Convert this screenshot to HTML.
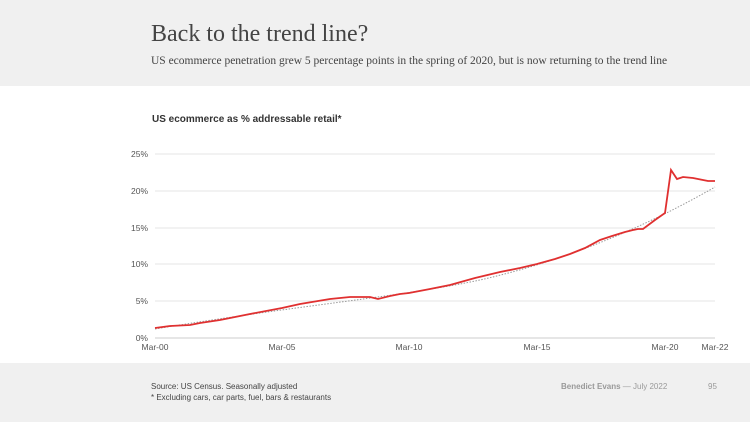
<!DOCTYPE html>
<html><head><style>
body{margin:0;width:750px;height:422px;overflow:hidden;background:#fff;font-family:"Liberation Sans",sans-serif}
.hdr{position:absolute;left:0;top:0;width:750px;height:86px;background:#f0f0f0}
.ftr{position:absolute;left:0;top:363px;width:750px;height:59px;background:#f0f0f0}
.t{position:absolute;left:151px;top:21px;font-family:"Liberation Serif",serif;font-size:24px;color:#444}
.s{position:absolute;left:151px;top:55px;font-family:"Liberation Serif",serif;font-size:11.5px;color:#444}
.ct{position:absolute;left:152px;top:114px;font-size:10px;font-weight:bold;color:#333}
.f{position:absolute;font-size:8px;color:#444}
</style></head><body>
<div class="hdr"></div><div class="ftr"></div>
<div class="t">Back to the trend line?</div>
<div class="s">US ecommerce penetration grew 5 percentage points in the spring of 2020, but is now returning to the trend line</div>
<div class="ct">US ecommerce as % addressable retail*</div>
<svg style="position:absolute;left:0;top:0" width="750" height="422">
<g stroke="#e4e4e4" stroke-width="1">
<line x1="155" x2="715" y1="154" y2="154"/><line x1="155" x2="715" y1="191" y2="191"/>
<line x1="155" x2="715" y1="228" y2="228"/><line x1="155" x2="715" y1="264" y2="264"/>
<line x1="155" x2="715" y1="301" y2="301"/></g>
<line x1="155" x2="715" y1="338" y2="338" stroke="#ccc"/>
<g font-size="8.5" fill="#555" font-family="Liberation Sans,sans-serif">
<text x="148" y="157" text-anchor="end">25%</text><text x="148" y="194" text-anchor="end">20%</text>
<text x="148" y="231" text-anchor="end">15%</text><text x="148" y="267" text-anchor="end">10%</text>
<text x="148" y="304" text-anchor="end">5%</text><text x="148" y="341" text-anchor="end">0%</text>
<text x="155" y="350" text-anchor="middle">Mar-00</text><text x="282" y="350" text-anchor="middle">Mar-05</text>
<text x="409" y="350" text-anchor="middle">Mar-10</text><text x="537" y="350" text-anchor="middle">Mar-15</text>
<text x="665" y="350" text-anchor="middle">Mar-20</text><text x="715" y="350" text-anchor="middle">Mar-22</text>
</g>
<path d="M155,329 C300,305 400,297 480,280 C560,262 640,230 715,187" fill="none" stroke="#999" stroke-width="1" stroke-dasharray="1.5,1.5"/>
<polyline fill="none" stroke="#e03030" stroke-width="1.8" points="155,328 170,326 190,325 200,323 220,320 250,314 282,308 300,304 330,299 350,297 370,297 378,299 390,296 400,294 409,293 430,289 450,285 475,278 500,272 520,268 537,264 555,259 570,254 585,248 600,240 612,236 625,232 633,230 638,229 643,229 655,220 665,213 671,170 677,179 683,177 693,178 703,180 708,181 715,181"/>
</svg>
<div class="f" style="left:151px;top:382px">Source: US Census. Seasonally adjusted</div>
<div class="f" style="left:151px;top:393px">* Excluding cars, car parts, fuel, bars &amp; restaurants</div>
<div class="f" style="left:561px;top:382px;color:#999"><b>Benedict Evans</b> — July 2022</div>
<div class="f" style="left:708px;top:382px;color:#999">95</div>
</body></html>
